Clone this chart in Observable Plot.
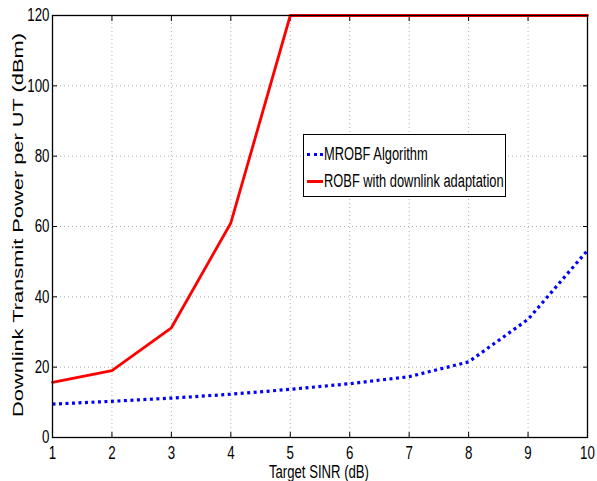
<!DOCTYPE html>
<html><head><meta charset="utf-8">
<script src="https://cdn.jsdelivr.net/npm/d3@7"></script>
<script src="https://cdn.jsdelivr.net/npm/@observablehq/plot@0.6"></script>
<style>
body{margin:0;background:#fff;}
#wrap{position:relative;width:597px;height:481px;overflow:hidden;}
#legend{position:absolute;left:303px;top:134px;width:201px;height:61px;border:1.3px solid #000;background:#fff;
 font-family:"Liberation Sans",Arial,sans-serif;font-size:18px;color:#000;}
.row{position:absolute;left:3px;height:20px;display:flex;align-items:center;white-space:nowrap;}
.sw{width:16px;height:0;margin-right:1px;}
.row span{display:inline-block;transform:scaleX(0.715);transform-origin:left center;}
</style></head>
<body><div id="wrap"></div>
<script>
const sinr = [1,2,3,4,5,6,7,8,9,10];
const mrobf = [9.5,10.3,11.2,12.3,13.7,15.3,17.3,21.5,33.6,53.2];
const robf = [15.7,19,31.2,61,120,120,120,120,120,120];
const xTicks = [1,2,3,4,5,6,7,8,9,10];
const yTicks = [0,20,40,60,80,100,120];
const seriesNames = ["MROBF Algorithm","ROBF with downlink adaptation"];

const rows = [];
sinr.forEach((x,i)=>{rows.push({x,y:mrobf[i],s:seriesNames[0]});});
sinr.forEach((x,i)=>{rows.push({x,y:robf[i],s:seriesNames[1]});});

const font = '"Liberation Sans",Arial,sans-serif';
const chart = Plot.plot({
  width:597, height:481,
  marginLeft:52, marginRight:10, marginTop:15, marginBottom:44,
  style:{fontFamily:font, fontSize:"18px", color:"#000", background:"#fff"},
  x:{domain:[1,10], ticks:xTicks, tickFormat:d3.format("d")},
  y:{domain:[0,120], ticks:yTicks, tickFormat:d3.format("d")},
  marks:[
    Plot.gridX(xTicks,{stroke:"#999", strokeOpacity:1, strokeDasharray:"1,3", strokeWidth:0.8}),
    Plot.gridY(yTicks,{stroke:"#999", strokeOpacity:1, strokeDasharray:"1,3", strokeWidth:0.8}),
    Plot.axisX(xTicks,{anchor:"bottom", tickSize:-5, tickPadding:14, label:null, fontSize:18, tickFormat:d3.format("d")}),
    Plot.axisX(xTicks,{anchor:"top", tickSize:-5, tickFormat:()=>"", label:null}),
    Plot.axisY(yTicks,{anchor:"left", tickSize:-5, tickPadding:8, label:null, fontSize:18, tickFormat:d3.format("d")}),
    Plot.axisY(yTicks,{anchor:"right", tickSize:-5, tickFormat:()=>"", label:null}),
    Plot.line(rows.filter(d=>d.s===seriesNames[0]),{x:"x",y:"y",stroke:"#0000ff",strokeWidth:3.2,strokeDasharray:"3,3.5",strokeLinecap:"butt"}),
    Plot.line(rows.filter(d=>d.s===seriesNames[1]),{x:"x",y:"y",stroke:"#ff0000",strokeWidth:2.8}),
    Plot.frame({stroke:"#000", strokeWidth:1.3})
  ]
});
const svg = d3.select(chart);
// condense tick labels horizontally (each label is placed by its own translate)
svg.selectAll("g[aria-label$='tick label'] text").each(function(){
  const el = d3.select(this);
  const t = el.attr("transform")||"";
  el.attr("transform", `${t} scale(0.74,1)`);
});
svg.append("text").attr("x",-225).attr("y",23).attr("transform","rotate(-90)")
  .attr("text-anchor","middle").attr("font-family",font)
  .attr("font-size","14px").attr("textLength",384).attr("lengthAdjust","spacingAndGlyphs").attr("fill","#000")
  .text("Downlink Transmit Power per UT (dBm)");
svg.append("text").attr("x",319).attr("y",478).attr("text-anchor","middle")
  .attr("textLength",100).attr("lengthAdjust","spacingAndGlyphs")
  .attr("font-family",font).attr("font-size","17.5px").attr("fill","#000").text("Target SINR (dB)");
document.getElementById("wrap").appendChild(chart);

const lg = document.createElement("div"); lg.id="legend";
lg.innerHTML = `<div class="row" style="top:9px"><div class="sw" style="border-top:3.2px dotted #0000ff"></div><span>${seriesNames[0]}</span></div>
<div class="row" style="top:36px"><div class="sw" style="border-top:3.2px solid #ff0000"></div><span>${seriesNames[1]}</span></div>`;
document.getElementById("wrap").appendChild(lg);
</script></body></html>
